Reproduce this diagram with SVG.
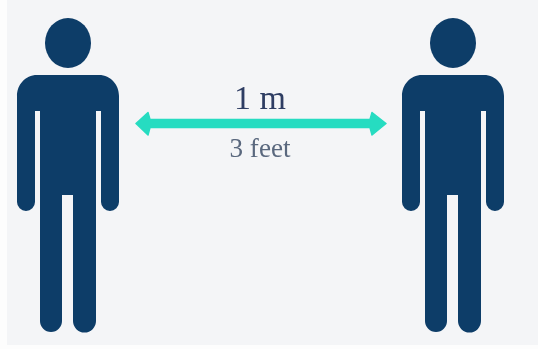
<svg xmlns="http://www.w3.org/2000/svg" width="538" height="349" viewBox="0 0 538 349">
<defs>
<style>
.ink{fill:#0f3d68}
.t{font-family:"Liberation Serif","DejaVu Serif",serif;text-anchor:middle}
</style>
<filter id="soft" x="-5%" y="-5%" width="110%" height="110%"><feGaussianBlur stdDeviation="0.7"/></filter>
<g id="figure">
<ellipse class="ink" cx="68" cy="43" rx="23" ry="25"/>
<path class="ink" d="M37 75H99C111 75 119 85 119 96V202A9 9 0 0 1 101 202V111H96V321A11.500 11.500 0 0 1 73 321V195H62V321A11 11 0 0 1 40 321V111H35V202A9 9 0 0 1 17 202V96C17 85 25 75 37 75Z"/>
</g>
</defs>
<rect width="538" height="349" fill="#fdfdfd"/>
<rect x="7" y="0" width="531" height="345" fill="#f4f5f7"/>
<g id="person-left" filter="url(#soft)"><use href="#figure"/></g>
<g id="person-right" filter="url(#soft)"><use href="#figure" x="385"/></g>
<g id="connectors" filter="url(#soft)">
<path d="M136 123.500L148 112.500L150 119.500H370L372 112.500L386 123.500L372 135L370 127.500H150L148 135Z" fill="#28dcc1" stroke="#28dcc1" stroke-width="1.500" stroke-linejoin="round"/>
</g>
<g id="labels" filter="url(#soft)">
<text class="t" x="260" y="109" font-size="34" fill="#2f3e63">1 m</text>
<text class="t" x="260" y="157" font-size="27" textLength="61" lengthAdjust="spacingAndGlyphs" fill="#5a687e">3 feet</text>
</g>
</svg>
